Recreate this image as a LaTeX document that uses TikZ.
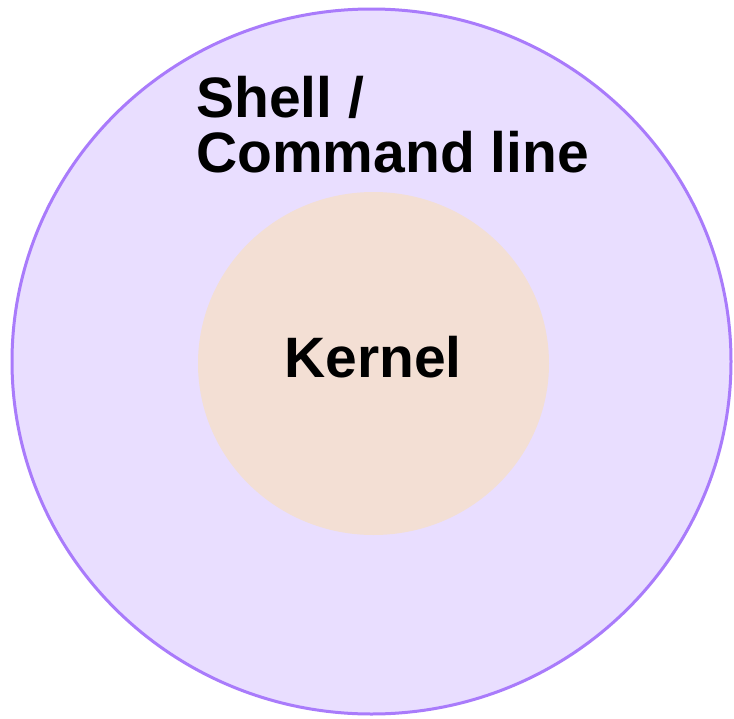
\documentclass[tikz,border=0pt]{standalone}
\usepackage{fontspec}
\setmainfont{Liberation Sans}
\definecolor{shellfill}{HTML}{E9DEFF}
\definecolor{shelldraw}{HTML}{A97BFB}
\definecolor{kernfill}{HTML}{F3DFD4}
\tikzset{
  layer/.style={ellipse, inner sep=0pt},
  lbl/.style={inner sep=0pt, font=\bfseries, text=black}
}
\usetikzlibrary{shapes.geometric}
\begin{document}
\begin{tikzpicture}[x=1pt,y=-1pt]
\useasboundingbox (0,0) rectangle (734,718);
\fill[white] (0,0) rectangle (734,718);
\node[layer, draw=shelldraw, line width=3pt, fill=shellfill,
      minimum width=719pt, minimum height=705pt] (shell) at (371.5,361.5) {};
\node[layer, fill=kernfill, minimum width=351pt, minimum height=343pt] (kernel) at (373.5,363.5) {};
\node[lbl, anchor=base, font=\bfseries\fontsize{57}{57}\selectfont] (kt) at (373,377) {Kernel};
\node[lbl, anchor=base west, align=left, font=\bfseries\fontsize{57}{55}\selectfont] (st) at (196,172) {Shell /\\Command line};
\end{tikzpicture}
\end{document}
